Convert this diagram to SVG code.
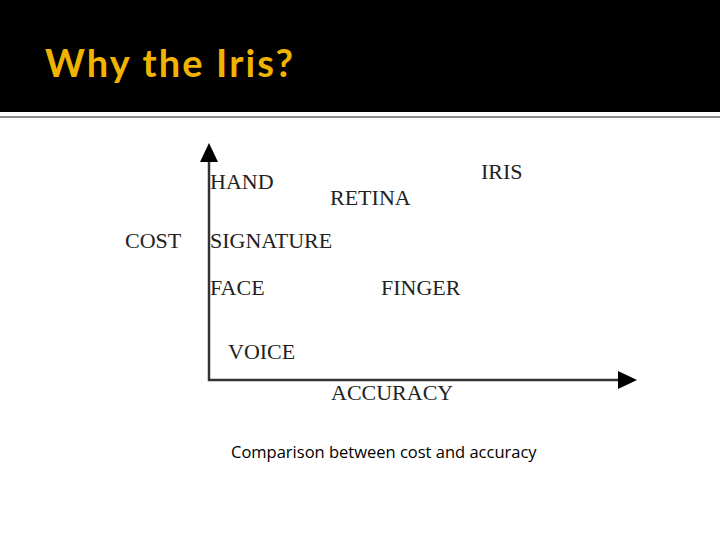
<svg xmlns="http://www.w3.org/2000/svg" width="720" height="540" viewBox="0 0 720 540">
<style>
.l{font-family:"Liberation Serif",serif;font-size:22px;fill:#222}
.ax{stroke:#333;stroke-width:2.5;fill:none}
</style>
<rect width="720" height="540" fill="#fff"/>
<rect width="720" height="112" fill="#000"/>
<line x1="0" y1="117" x2="720" y2="117" stroke="#666" stroke-width="1.5"/>
<text x="45" y="77" font-family="Lato, sans-serif" font-weight="bold" font-size="38" fill="#f0b400" textLength="248" lengthAdjust="spacing">Why the Iris?</text>
<g id="connectors">
<line class="ax" x1="209" y1="160" x2="209" y2="381"/>
<polygon points="209,143 200,162 218,162" fill="#000"/>
<line class="ax" x1="208" y1="380" x2="620" y2="380"/>
<polygon points="637,380 618,371 618,389" fill="#000"/>
</g>
<g id="hand"><text class="l" x="210" y="189">HAND</text></g>
<g id="retina"><text class="l" x="330" y="205">RETINA</text></g>
<g id="iris"><text class="l" x="481" y="179">IRIS</text></g>
<g id="cost"><text class="l" x="125" y="248">COST</text></g>
<g id="signature"><text class="l" x="210" y="248">SIGNATURE</text></g>
<g id="face"><text class="l" x="210" y="295">FACE</text></g>
<g id="finger"><text class="l" x="381" y="295">FINGER</text></g>
<g id="voice"><text class="l" x="228" y="359">VOICE</text></g>
<g id="accuracy"><text class="l" x="331" y="400">ACCURACY</text></g>
<text x="231" y="458" font-family="Open Sans, sans-serif" font-size="16.5" fill="#000">Comparison between cost and accuracy</text>
</svg>
